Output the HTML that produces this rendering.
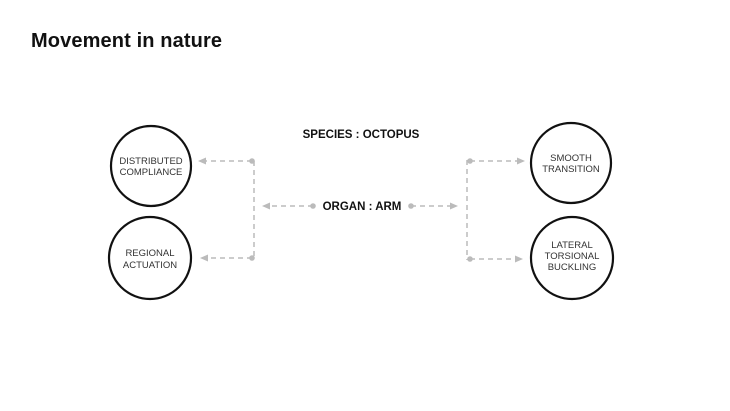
<!DOCTYPE html>
<html><head><meta charset="utf-8"><style>
body{margin:0;background:#fff;}
svg{display:block;}
</style></head><body>
<svg width="730" height="411" xmlns="http://www.w3.org/2000/svg" font-family="Liberation Sans, sans-serif">
<text x="31" y="47" font-size="20" font-weight="bold" fill="#111" textLength="191">Movement in nature</text>
<text x="361" y="138" font-size="11.5" font-weight="bold" fill="#111" text-anchor="middle">SPECIES : OCTOPUS</text>
<text x="362" y="210" font-size="11.5" font-weight="bold" fill="#111" text-anchor="middle">ORGAN : ARM</text>
<g fill="none" stroke="#111" stroke-width="2.2">
<circle cx="151" cy="166" r="40"/>
<circle cx="150" cy="258" r="41"/>
<circle cx="571" cy="163" r="40"/>
<circle cx="572" cy="258" r="41"/>
</g>
<g font-size="9.5" fill="#333" text-anchor="middle">
<text x="151" y="164">DISTRIBUTED</text><text x="151" y="175">COMPLIANCE</text>
<text x="150" y="256">REGIONAL</text><text x="150" y="268">ACTUATION</text>
<text x="571" y="161">SMOOTH</text><text x="571" y="172">TRANSITION</text>
<text x="572" y="248">LATERAL</text><text x="572" y="259">TORSIONAL</text><text x="572" y="270">BUCKLING</text>
</g>
<g stroke="#bbb" stroke-width="1.5" stroke-dasharray="5,4" fill="none">
<path d="M252 161H204M254 161V258M252 258H206"/>
<path d="M313 206H268M411 206H452"/>
<path d="M467 160V260M470 161H520M470 259H518"/>
</g>
<g fill="#bbb">
<circle cx="252" cy="161" r="2.8"/><circle cx="252" cy="258" r="2.8"/>
<circle cx="313" cy="206" r="2.8"/><circle cx="411" cy="206" r="2.8"/>
<circle cx="470" cy="161" r="2.8"/><circle cx="470" cy="259" r="2.8"/>
<path d="M198 161l8-3.5v7z"/><path d="M200 258l8-3.5v7z"/>
<path d="M262 206l8-3.5v7z"/><path d="M458 206l-8-3.5v7z"/>
<path d="M525 161l-8-3.5v7z"/><path d="M523 259l-8-3.5v7z"/>
</g>
</svg>
</body></html>
